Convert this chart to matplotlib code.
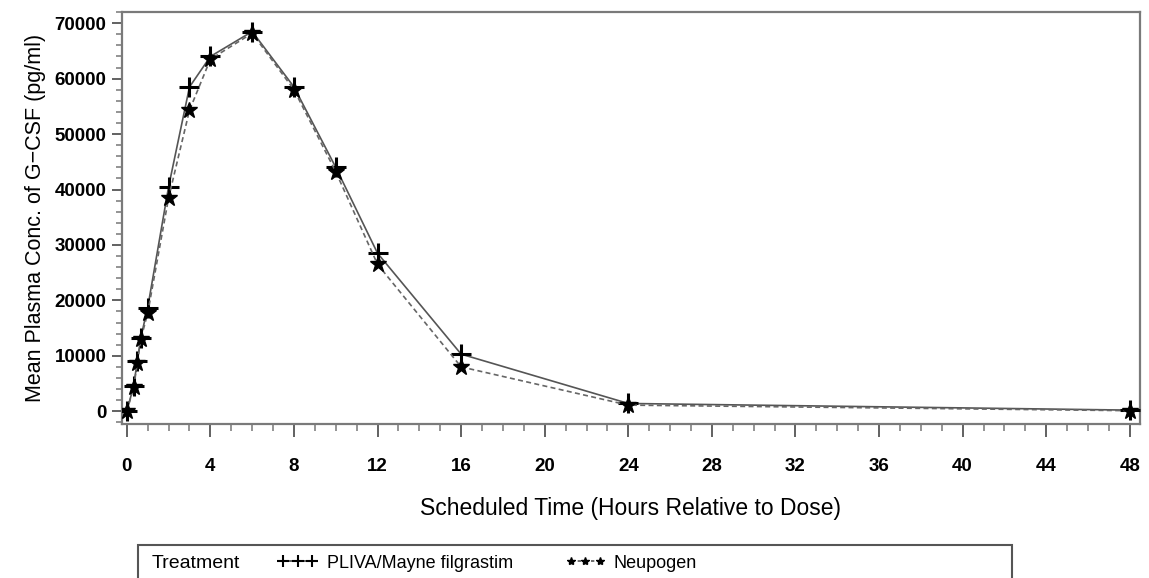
import matplotlib
matplotlib.use("Agg")
import matplotlib.pyplot as plt
from matplotlib.ticker import MultipleLocator
from matplotlib.lines import Line2D
from matplotlib.patches import Rectangle

plt.rcParams["font.family"] = ["Liberation Sans", "DejaVu Sans"]

# hours after dose
hours = [0, 0.33, 0.5, 0.67, 1, 2, 3, 4, 6, 8, 10, 12, 16, 24, 48]
# mean plasma G-CSF (pg/ml)
pliva = [0, 4600, 9000, 13300, 18700, 40500, 58500, 64000, 68500, 58500, 44000, 28500, 10300, 1400, 200]
neupogen = [0, 4300, 8700, 13000, 17700, 38500, 54300, 63500, 68200, 58000, 43200, 26500, 8000, 1100, 100]

x_ticks = list(range(0, 49, 4))

fig = plt.figure(figsize=(11.49, 5.78), dpi=100)
ax = fig.add_axes([0.106, 0.266, 0.886, 0.713])

ax.plot(hours, pliva, color="#555555", lw=1.2, ls="-",
        marker="+", ms=15, mew=2.2, mec="black", zorder=3)
ax.plot(hours, neupogen, color="#666666", lw=1.2, ls=(0, (3, 2)),
        marker="*", ms=12, mec="black", mfc="black", zorder=3)

ax.set_xlim(-0.24, 48.48)
ax.set_ylim(-2350, 72000)
ax.set_xticks(x_ticks)
ax.xaxis.set_minor_locator(MultipleLocator(1))
ax.yaxis.set_major_locator(MultipleLocator(10000))
ax.yaxis.set_minor_locator(MultipleLocator(2000))

for s in ax.spines.values():
    s.set_color("#7a7a7a")
    s.set_linewidth(1.6)
ax.tick_params(which="major", length=9, width=1.3, color="#555555", labelsize=13.5, pad=15)
ax.tick_params(which="minor", length=5, width=1.1, color="#777777")
ax.tick_params(axis="y", which="major", length=7, pad=4)
ax.tick_params(axis="y", which="minor", length=4)
for lab in ax.get_xticklabels() + ax.get_yticklabels():
    lab.set_fontweight("bold")

ax.set_xlabel("Scheduled Time (Hours Relative to Dose)", fontsize=16.5, labelpad=16)
ax.set_ylabel("Mean Plasma Conc. of G\u2212CSF (pg/ml)", fontsize=15.5, labelpad=6)

# legend box, cut off by the bottom edge
fig.add_artist(Rectangle((138 / 1149, -0.05), (1012 - 138) / 1149, 0.05 + 1 - 545 / 578,
                         transform=fig.transFigure, fill=False, ec="#555555", lw=1.5))
ly = 1 - 563 / 578
fig.text(152 / 1149, ly, "Treatment", fontsize=14, va="center")
handles = [
    Line2D([], [], color="#444444", lw=1.2, marker="+", ms=9, mew=1.5, mec="black"),
    Line2D([], [], color="#555555", lw=1.2, ls=(0, (2, 2)), marker="*", ms=6, mec="black", mfc="black"),
]
fig.legend(handles, ["PLIVA/Mayne filgrastim", "Neupogen"], ncol=2, frameon=False,
           loc="center left", bbox_to_anchor=(278 / 1149, ly), numpoints=3,
           handlelength=2.2, handletextpad=0.5, columnspacing=2.9, fontsize=13,
           borderaxespad=0, borderpad=0)

fig.savefig("out.png", dpi=100)
